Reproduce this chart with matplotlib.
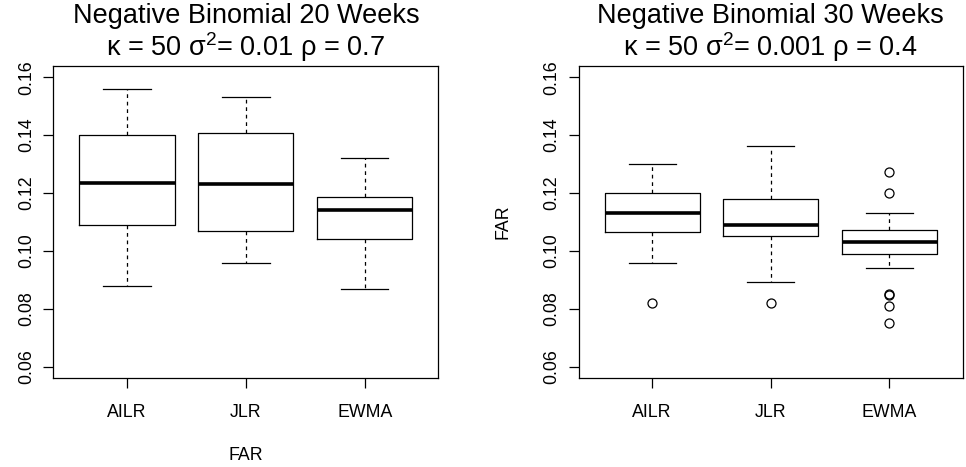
import numpy as np
import matplotlib.pyplot as plt

plt.rcParams['font.family'] = ['Liberation Sans', 'DejaVu Sans']
plt.rcParams['mathtext.fontset'] = 'custom'
plt.rcParams['mathtext.rm'] = 'Liberation Sans'

methods = ["AILR", "JLR", "EWMA"]

## 20 weeks panel (whislo, q1, median, q3, whishi)
lo_20 = [0.088, 0.096, 0.087]
q1_20 = [0.109, 0.107, 0.104]
med_20 = [0.1235, 0.1233, 0.1142]
q3_20 = [0.140, 0.1409, 0.1188]
hi_20 = [0.156, 0.1532, 0.132]
out_20 = [[], [], []]

## 30 weeks panel
lo_30 = [0.096, 0.0892, 0.094]
q1_30 = [0.1065, 0.1051, 0.099]
med_30 = [0.1131, 0.109, 0.103]
q3_30 = [0.120, 0.1181, 0.1071]
hi_30 = [0.130, 0.1363, 0.1131]
out_30 = [[0.082], [0.082], [0.1273, 0.1201, 0.0852, 0.0848, 0.0811, 0.0752]]

titles = ["Negative Binomial 20 Weeks", "Negative Binomial 30 Weeks"]
subtitles = ["κ = 50 σ$^{2}$= 0.01 ρ = 0.7", "κ = 50 σ$^{2}$= 0.001 ρ = 0.4"]
yticks = [0.06, 0.08, 0.10, 0.12, 0.14, 0.16]


def makeStats(lo, q1, med, q3, hi, fl):
    stats = []
    for i in range(len(lo)):
        stats.append({"whislo": lo[i], "q1": q1[i], "med": med[i],
                      "q3": q3[i], "whishi": hi[i], "fliers": fl[i]})
    return stats


def drawPanel(ax, stats, title, subtitle):
    ax.bxp(stats, positions=[1, 2, 3], widths=0.8, capwidths=0.4,
           boxprops=dict(color="black", linewidth=0.9),
           medianprops=dict(color="black", linewidth=2.6, solid_capstyle="butt"),
           whiskerprops=dict(color="black", linewidth=0.9, linestyle=(0, (3, 3))),
           capprops=dict(color="black", linewidth=0.9),
           flierprops=dict(marker="o", markerfacecolor="none", markeredgecolor="black",
                           markersize=6.5, markeredgewidth=0.9))
    ax.set_xlim(0.38, 3.62)
    ax.set_ylim(0.056, 0.164)
    ax.set_xticks([1, 2, 3])
    ax.set_xticklabels(methods, fontsize=12.8)
    ax.set_yticks(yticks)
    ax.set_yticklabels([f"{t:.2f}" for t in yticks], fontsize=12.8, rotation=90, va="center")
    ax.tick_params(axis="x", length=7, width=0.9, pad=11.5)
    ax.tick_params(axis="y", length=7, width=0.9, pad=6)
    for s in ax.spines.values():
        s.set_linewidth(0.9)
    ax.text(0.5, 1.136, title, transform=ax.transAxes, ha="center", va="baseline", fontsize=19.5)
    ax.text(0.5, 1.032, subtitle, transform=ax.transAxes, ha="center", va="baseline", fontsize=19.5)


fig = plt.figure(figsize=(9.66, 4.67), dpi=100)
ax1 = fig.add_axes([0.0552, 0.1899, 0.3986, 0.6694])
ax2 = fig.add_axes([0.5991, 0.1899, 0.3975, 0.6694])

drawPanel(ax1, makeStats(lo_20, q1_20, med_20, q3_20, hi_20, out_20), titles[0], subtitles[0])
drawPanel(ax2, makeStats(lo_30, q1_30, med_30, q3_30, hi_30, out_30), titles[1], subtitles[1])

ax1.set_xlabel("FAR", fontsize=12.8, labelpad=19)
ax2.set_ylabel("FAR", fontsize=12.8, labelpad=23)

fig.savefig("out.png", dpi=100)
